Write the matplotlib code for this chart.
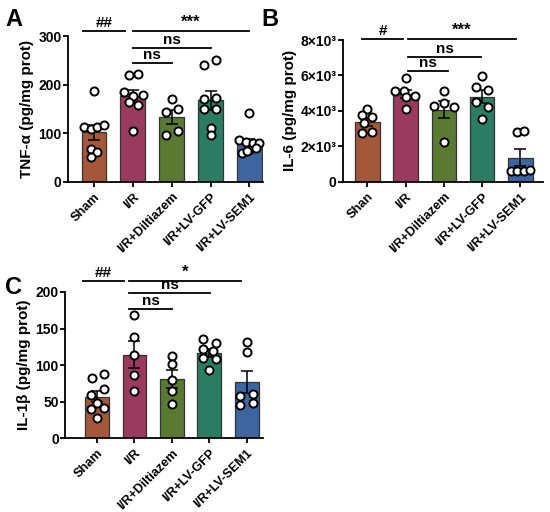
import matplotlib
matplotlib.use("Agg")
import matplotlib.pyplot as plt
import numpy as np

plt.rcParams['font.family'] = ['Liberation Sans', 'DejaVu Sans']
plt.rcParams['font.weight'] = 'bold'

groups = ['Sham', 'I/R', 'I/R+Diltiazem', 'I/R+LV-GFP', 'I/R+LV-SEM1']
groups_b = ['Shan', 'I/R', 'I/R+Diltiazem', 'I/R+LV-GFP', 'I/R+LV-SEM1']
colors = ['#a5573a', '#993a5e', '#5b7a31', '#2a7d62', '#3d65a0']

# TNF-a (pg/mg prot)
tnf_sham = [187, 113, 108, 112, 117, 68, 61, 50]
tnf_ir = [219, 222, 184, 177, 178, 164, 159, 104]
tnf_dil = [171, 143, 150, 97, 104]
tnf_gfp = [240, 251, 171, 172, 150, 150, 111, 97]
tnf_sem1 = [141, 85, 82, 80, 79, 60, 66, 70, 64]

# IL-6 (pg/mg prot)
il6_sham = [4100, 3750, 3650, 3300, 2750, 2800]
il6_ir = [5840, 5130, 5100, 4850, 4800, 4100]
il6_dil = [5140, 4300, 4470, 4240, 2240]
il6_gfp = [5970, 5370, 5180, 4490, 4240, 3550]
il6_sem1 = [2830, 2890, 600, 620, 620, 650]

# IL-1b (pg/mg prot)
il1b_sham = [82, 88, 67, 59, 48, 40, 41, 28]
il1b_ir = [168, 139, 114, 86, 64]
il1b_dil = [113, 101, 80, 65, 47]
il1b_gfp = [136, 130, 122, 120, 110, 108, 94]
il1b_sem1 = [132, 118, 58, 60, 45, 48]

# horizontal scatter of the dots (in bar units)
jit_a = [[0, -0.26, -0.09, 0.09, 0.26, -0.09, 0.09, -0.09],
         [-0.11, 0.12, -0.24, 0, 0.25, -0.11, 0.12, 0],
         [0, -0.14, 0.16, -0.14, 0.16],
         [-0.16, 0.15, -0.16, 0.15, -0.16, 0.15, 0, 0],
         [0, -0.27, -0.09, 0.09, 0.26, -0.18, 0, 0.16, -0.05]]
jit_b = [[0, -0.13, 0.11, -0.1, -0.15, 0.11],
         [0, -0.27, -0.04, 0.24, 0.02, 0],
         [0, -0.25, 0, 0.26, 0],
         [0, -0.17, 0.14, -0.17, 0.14, 0],
         [-0.09, 0.1, -0.24, -0.09, 0.09, 0.26]]
jit_c = [[-0.13, 0.18, 0.18, -0.16, 0, -0.16, 0.18, 0],
         [0, 0, 0, 0, 0],
         [0, 0, 0, 0, 0],
         [-0.16, 0.17, -0.16, 0.09, -0.16, 0.17, 0],
         [0, 0, -0.18, 0.16, -0.18, 0.16]]

# significance lines: text, x start, x end, height
sig_a = [('##', -0.28, 0.8, 310), ('***', 1, 4, 310), ('ns', 1, 3, 275), ('ns', 1, 2, 244)]
sig_b = [('#', -0.14, 0.93, 8060), ('***', 1.06, 3.88, 8060), ('ns', 1.06, 2.97, 7040),
         ('ns', 1.06, 2.1, 6250)]
sig_c = [('##', -0.37, 0.72, 215), ('*', 0.86, 3.85, 215), ('ns', 0.86, 3.02, 198),
         ('ns', 0.86, 2.0, 177)]


def draw_panel(ax, data, jit, labels, yticks, yticklabels, ylabel, sig, xlim):
    x = np.arange(len(data))
    means = [np.mean(d) for d in data]
    sems = [np.std(d, ddof=1) / np.sqrt(len(d)) for d in data]
    ax.bar(x, means, width=0.64, color=colors, edgecolor='#333333', linewidth=0.9, zorder=1)
    ax.errorbar(x, means, yerr=sems, fmt='none', ecolor='black', elinewidth=1.1,
                capsize=4.5, capthick=1.1, zorder=2)
    for i, d in enumerate(data):
        ax.scatter(x[i] + np.array(jit[i]), d, s=34, facecolor='white', edgecolor='black',
                   linewidth=1.4, zorder=3, clip_on=False)
    ax.set_xlim(*xlim)
    ax.set_ylim(yticks[0], yticks[-1])
    ax.set_yticks(yticks)
    ax.set_yticklabels(yticklabels, fontsize=10, fontweight='bold')
    ax.set_xticks(x)
    ax.set_xticklabels(labels, rotation=45, ha='right', rotation_mode='anchor',
                       fontsize=9.2, fontweight='bold')
    ax.set_ylabel(ylabel, fontsize=11, fontweight='bold', labelpad=3)
    for s in ['top', 'right']:
        ax.spines[s].set_visible(False)
    for s in ['left', 'bottom']:
        ax.spines[s].set_linewidth(1.3)
    ax.tick_params(width=1.3, length=3.5)
    ax.tick_params(axis='y', pad=1)
    ax.tick_params(axis='x', pad=3)
    top = yticks[-1]
    for txt, x0, x1, h in sig:
        ax.plot([x0, x1], [h, h], color='black', linewidth=1.3, clip_on=False)
        ax.text((x0 + x1) / 2, h + top * 0.008, txt, ha='center', va='bottom',
                fontsize=12 if '*' in txt else 11, fontweight='bold')


fig = plt.figure(figsize=(5.5, 5.12), dpi=100)
ax_a = fig.add_axes([0.1236, 0.645, 0.3545, 0.2846])
ax_b = fig.add_axes([0.6236, 0.645, 0.3636, 0.2768])
ax_c = fig.add_axes([0.1182, 0.144, 0.36, 0.2857])

draw_panel(ax_a, [tnf_sham, tnf_ir, tnf_dil, tnf_gfp, tnf_sem1], jit_a, groups,
           [0, 100, 200, 300], ['0', '100', '200', '300'],
           'TNF-α (pg/mg prot)', sig_a, (-0.67, 4.35))
draw_panel(ax_b, [il6_sham, il6_ir, il6_dil, il6_gfp, il6_sem1], jit_b, groups_b,
           [0, 2000, 4000, 6000, 8000], ['0', '2×10³', '4×10³', '6×10³', '8×10³'],
           'IL-6 (pg/mg prot)', sig_b, (-0.64, 4.59))
draw_panel(ax_c, [il1b_sham, il1b_ir, il1b_dil, il1b_gfp, il1b_sem1], jit_c, groups,
           [0, 50, 100, 150, 200], ['0', '50', '100', '150', '200'],
           'IL-1β (pg/mg prot)', sig_c, (-0.86, 4.44))

fig.text(0.01, 0.985, 'A', fontsize=17, fontweight='bold', va='top')
fig.text(0.476, 0.985, 'B', fontsize=17, fontweight='bold', va='top')
fig.text(0.01, 0.46, 'C', fontsize=17, fontweight='bold', va='top')

fig.savefig('out.png', dpi=100)
